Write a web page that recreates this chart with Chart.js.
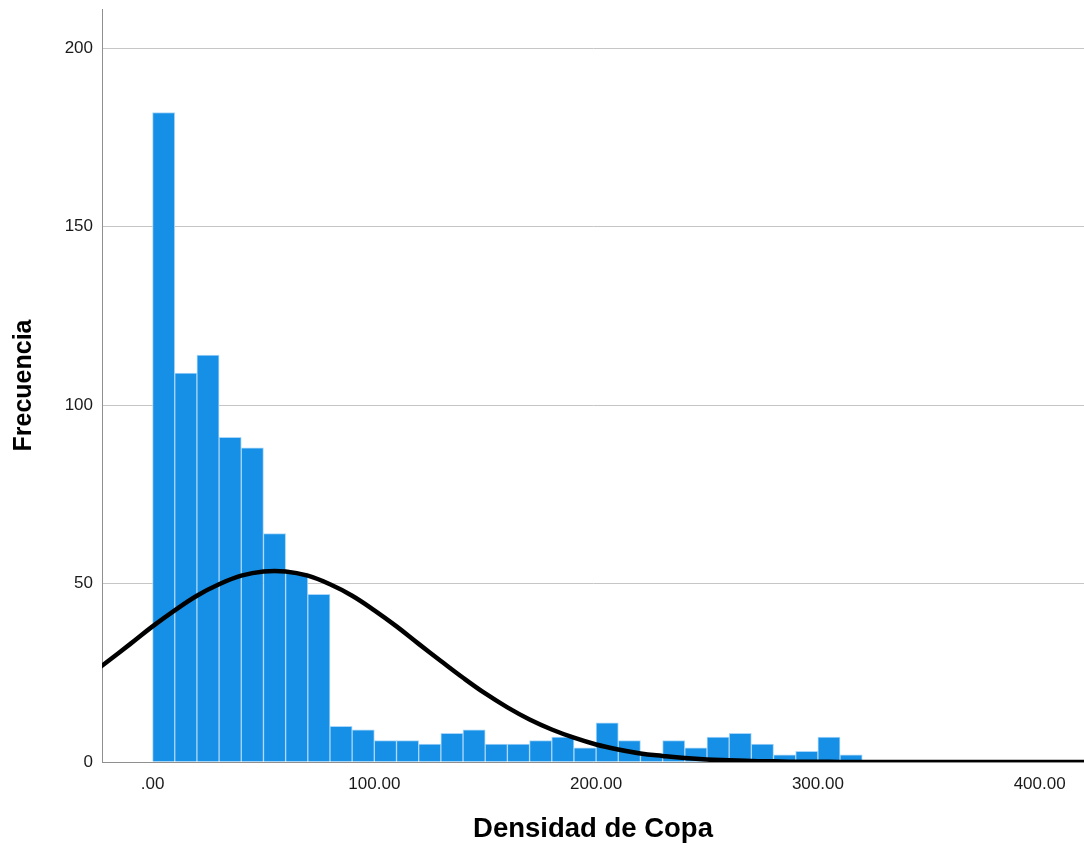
<!DOCTYPE html>
<html>
<head>
<meta charset="utf-8">
<script src="https://cdn.jsdelivr.net/npm/chart.js@4.4.1/dist/chart.umd.min.js"></script>
<style>
  html, body { margin: 0; padding: 0; background: #ffffff; }
  #wrap { position: relative; width: 1084px; height: 849px; }
  canvas { display: block; }
</style>
</head>
<body>
<div id="wrap"><canvas id="hist" width="1084" height="849"></canvas></div>
<script>
// Histogram bins (lower edge of each 10-unit class) and their frequencies
const binStart = [0, 10, 20, 30, 40, 50, 60, 70, 80, 90,
                  100, 110, 120, 130, 140, 150, 160, 170, 180, 190,
                  200, 210, 220, 230, 240, 250, 260, 270, 280, 290,
                  300, 310];
const frequency = [182, 109, 114, 91, 88, 64, 53, 47, 10, 9,
                   6, 6, 5, 8, 9, 5, 5, 6, 7, 4,
                   11, 6, 2, 6, 4, 7, 8, 5, 2, 3,
                   7, 2];
const binWidth = 10;

// Normal reference curve, sampled along the axis
const curveX = [-30, -20, -10, 0, 10, 20, 30, 40, 50, 60,
                70, 80, 90, 100, 110, 120, 130, 140, 150, 160,
                170, 180, 190, 200, 210, 220, 230, 240, 250, 260,
                270, 280, 290, 300, 310, 320, 340, 360, 380, 400, 420];
const curveY = [23.6, 28.3, 33.1, 38.0, 42.5, 46.6, 49.8, 52.2, 53.4, 53.4,
                52.2, 49.8, 46.6, 42.5, 38.0, 33.1, 28.3, 23.6, 19.2, 15.3,
                11.9, 9.1, 6.8, 4.9, 3.5, 2.4, 1.7, 1.1, 0.7, 0.5,
                0.3, 0.2, 0.1, 0.1, 0.0, 0.0, 0.0, 0.0, 0.0, 0.0, 0.0];

// Axis ticks
const xTicks = [0, 100, 200, 300, 400];
const yTicks = [0, 50, 100, 150, 200];

const barPoints = binStart.map((s, i) => ({ x: s + binWidth / 2, y: frequency[i] }));
const curvePoints = curveX.map((x, i) => ({ x: x, y: curveY[i] }));

const FONT = "'Liberation Sans', Arial, sans-serif";
const TITLE_FONT = "Arial, 'Liberation Sans', sans-serif";

new Chart(document.getElementById('hist'), {
  type: 'bar',
  data: {
    datasets: [
      {
        type: 'line',
        data: curvePoints,
        borderColor: '#000000',
        borderWidth: 4.5,
        pointRadius: 0,
        tension: 0.4,
        fill: false,
        order: 0
      },
      {
        type: 'bar',
        data: barPoints,
        backgroundColor: '#1590e6',
        borderColor: '#a9d6f8',
        borderWidth: 1,
        borderSkipped: 'start',
        barPercentage: 1.0,
        categoryPercentage: 1.0,
        order: 1
      }
    ]
  },
  options: {
    responsive: false,
    animation: false,
    devicePixelRatio: 1,
    layout: { padding: { top: 9, right: 0, left: 0, bottom: 0 } },
    plugins: { legend: { display: false }, tooltip: { enabled: false } },
    scales: {
      x: {
        type: 'linear',
        min: -22.8,
        max: 420,
        offset: false,
        afterFit: (scale) => { scale.height = 87; },
        afterBuildTicks: (scale) => { scale.ticks = xTicks.map(v => ({ value: v })); },
        grid: { display: false, drawTicks: false },
        border: { display: true, color: '#8f8f8f', width: 1 },
        ticks: {
          padding: 12,
          color: '#1a1a1a',
          font: { family: FONT, size: 17 },
          maxRotation: 0,
          autoSkip: false,
          callback: (v) => v === 0 ? '.00' : Number(v).toFixed(2)
        },
        title: {
          display: true,
          text: 'Densidad de Copa',
          color: '#000000',
          font: { family: TITLE_FONT, size: 27.5, weight: 'bold' },
          padding: { top: 0, bottom: 3 }
        }
      },
      y: {
        type: 'linear',
        min: 0,
        max: 211,
        afterFit: (scale) => {
          scale.width = 102;
          scale.paddingTop = 0;
          scale.paddingBottom = 0;
        },
        afterBuildTicks: (scale) => { scale.ticks = yTicks.map(v => ({ value: v })); },
        grid: { display: true, color: '#c6c6c6', lineWidth: 1, drawTicks: false },
        border: { display: true, color: '#8f8f8f', width: 1 },
        ticks: {
          padding: 9,
          color: '#1a1a1a',
          font: { family: FONT, size: 17 },
          callback: (v) => String(v)
        },
        title: {
          display: true,
          text: 'Frecuencia',
          color: '#000000',
          font: { family: FONT, size: 25, weight: 'bold' },
          padding: { top: 9, bottom: 0 }
        }
      }
    }
  }
});
</script>
</body>
</html>
